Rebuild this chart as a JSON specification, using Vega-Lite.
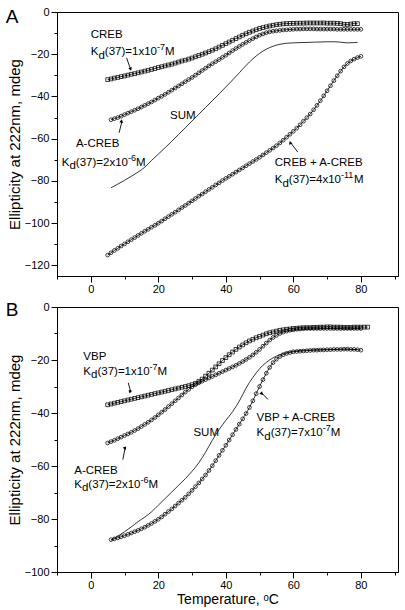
{
"$schema":"https://vega.github.io/schema/vega-lite/v6.json",
"background":"white",
"padding":{"left":5,"top":5,"right":2,"bottom":2},
"spacing":5,
"config":{"view":{"stroke":"black","strokeWidth":1},"axis":{"labelFont":"Liberation Sans","titleFont":"Liberation Sans","labelColor":"black","titleColor":"black","domainColor":"black","tickColor":"black","grid":false,"labelFontSize":11,"titleFontWeight":"normal","titleFontSize":15,"tickWidth":1,"domainWidth":1}},
"datasets":{
"pts":[
{"p":"A","s":"CREB","t":5,"v":-32.0},{"p":"A","s":"CREB","t":6,"v":-31.7},{"p":"A","s":"CREB","t":7,"v":-31.3},{"p":"A","s":"CREB","t":8,"v":-31.0},{"p":"A","s":"CREB","t":9,"v":-30.6},{"p":"A","s":"CREB","t":10,"v":-30.3},{"p":"A","s":"CREB","t":11,"v":-29.9},{"p":"A","s":"CREB","t":12,"v":-29.5},{"p":"A","s":"CREB","t":13,"v":-29.2},{"p":"A","s":"CREB","t":14,"v":-28.8},{"p":"A","s":"CREB","t":15,"v":-28.4},{"p":"A","s":"CREB","t":16,"v":-28.0},{"p":"A","s":"CREB","t":17,"v":-27.6},{"p":"A","s":"CREB","t":18,"v":-27.2},{"p":"A","s":"CREB","t":19,"v":-26.8},{"p":"A","s":"CREB","t":20,"v":-26.3},{"p":"A","s":"CREB","t":21,"v":-25.9},{"p":"A","s":"CREB","t":22,"v":-25.5},{"p":"A","s":"CREB","t":23,"v":-25.1},{"p":"A","s":"CREB","t":24,"v":-24.7},{"p":"A","s":"CREB","t":25,"v":-24.2},{"p":"A","s":"CREB","t":26,"v":-23.7},{"p":"A","s":"CREB","t":27,"v":-23.2},{"p":"A","s":"CREB","t":28,"v":-22.8},{"p":"A","s":"CREB","t":29,"v":-22.3},{"p":"A","s":"CREB","t":30,"v":-21.8},{"p":"A","s":"CREB","t":31,"v":-21.2},{"p":"A","s":"CREB","t":32,"v":-20.6},{"p":"A","s":"CREB","t":33,"v":-20.0},{"p":"A","s":"CREB","t":34,"v":-19.4},{"p":"A","s":"CREB","t":35,"v":-18.8},{"p":"A","s":"CREB","t":36,"v":-18.1},{"p":"A","s":"CREB","t":37,"v":-17.4},{"p":"A","s":"CREB","t":38,"v":-16.6},{"p":"A","s":"CREB","t":39,"v":-15.8},{"p":"A","s":"CREB","t":40,"v":-15.0},{"p":"A","s":"CREB","t":41,"v":-14.2},{"p":"A","s":"CREB","t":42,"v":-13.4},{"p":"A","s":"CREB","t":43,"v":-12.6},{"p":"A","s":"CREB","t":44,"v":-11.8},{"p":"A","s":"CREB","t":45,"v":-11.0},{"p":"A","s":"CREB","t":46,"v":-10.3},{"p":"A","s":"CREB","t":47,"v":-9.6},{"p":"A","s":"CREB","t":48,"v":-9.0},{"p":"A","s":"CREB","t":49,"v":-8.4},{"p":"A","s":"CREB","t":50,"v":-7.8},{"p":"A","s":"CREB","t":51,"v":-7.4},{"p":"A","s":"CREB","t":52,"v":-7.0},{"p":"A","s":"CREB","t":53,"v":-6.6},{"p":"A","s":"CREB","t":54,"v":-6.3},{"p":"A","s":"CREB","t":55,"v":-6.0},{"p":"A","s":"CREB","t":56,"v":-5.8},{"p":"A","s":"CREB","t":57,"v":-5.6},{"p":"A","s":"CREB","t":58,"v":-5.5},{"p":"A","s":"CREB","t":59,"v":-5.4},{"p":"A","s":"CREB","t":60,"v":-5.4},{"p":"A","s":"CREB","t":61,"v":-5.3},{"p":"A","s":"CREB","t":62,"v":-5.3},{"p":"A","s":"CREB","t":63,"v":-5.3},{"p":"A","s":"CREB","t":64,"v":-5.2},{"p":"A","s":"CREB","t":65,"v":-5.2},{"p":"A","s":"CREB","t":66,"v":-5.2},{"p":"A","s":"CREB","t":67,"v":-5.2},{"p":"A","s":"CREB","t":68,"v":-5.2},{"p":"A","s":"CREB","t":69,"v":-5.2},{"p":"A","s":"CREB","t":70,"v":-5.3},{"p":"A","s":"CREB","t":71,"v":-5.3},{"p":"A","s":"CREB","t":72,"v":-5.3},{"p":"A","s":"CREB","t":73,"v":-5.4},{"p":"A","s":"CREB","t":74,"v":-5.5},{"p":"A","s":"CREB","t":75,"v":-5.8},{"p":"A","s":"CREB","t":76,"v":-5.9},{"p":"A","s":"CREB","t":77,"v":-5.7},{"p":"A","s":"CREB","t":78,"v":-5.5},{"p":"A","s":"CREB","t":79,"v":-5.5},
{"p":"A","s":"A-CREB","t":6,"v":-51.0},{"p":"A","s":"A-CREB","t":7,"v":-50.5},{"p":"A","s":"A-CREB","t":8,"v":-50.0},{"p":"A","s":"A-CREB","t":9,"v":-49.3},{"p":"A","s":"A-CREB","t":10,"v":-48.6},{"p":"A","s":"A-CREB","t":11,"v":-47.9},{"p":"A","s":"A-CREB","t":12,"v":-47.2},{"p":"A","s":"A-CREB","t":13,"v":-46.5},{"p":"A","s":"A-CREB","t":14,"v":-45.8},{"p":"A","s":"A-CREB","t":15,"v":-45.0},{"p":"A","s":"A-CREB","t":16,"v":-44.2},{"p":"A","s":"A-CREB","t":17,"v":-43.4},{"p":"A","s":"A-CREB","t":18,"v":-42.6},{"p":"A","s":"A-CREB","t":19,"v":-41.7},{"p":"A","s":"A-CREB","t":20,"v":-40.8},{"p":"A","s":"A-CREB","t":21,"v":-39.9},{"p":"A","s":"A-CREB","t":22,"v":-39.0},{"p":"A","s":"A-CREB","t":23,"v":-38.0},{"p":"A","s":"A-CREB","t":24,"v":-37.0},{"p":"A","s":"A-CREB","t":25,"v":-36.0},{"p":"A","s":"A-CREB","t":26,"v":-35.0},{"p":"A","s":"A-CREB","t":27,"v":-34.0},{"p":"A","s":"A-CREB","t":28,"v":-33.0},{"p":"A","s":"A-CREB","t":29,"v":-32.0},{"p":"A","s":"A-CREB","t":30,"v":-31.0},{"p":"A","s":"A-CREB","t":31,"v":-29.9},{"p":"A","s":"A-CREB","t":32,"v":-28.8},{"p":"A","s":"A-CREB","t":33,"v":-27.7},{"p":"A","s":"A-CREB","t":34,"v":-26.6},{"p":"A","s":"A-CREB","t":35,"v":-25.5},{"p":"A","s":"A-CREB","t":36,"v":-24.5},{"p":"A","s":"A-CREB","t":37,"v":-23.5},{"p":"A","s":"A-CREB","t":38,"v":-22.5},{"p":"A","s":"A-CREB","t":39,"v":-21.5},{"p":"A","s":"A-CREB","t":40,"v":-20.5},{"p":"A","s":"A-CREB","t":41,"v":-19.4},{"p":"A","s":"A-CREB","t":42,"v":-18.3},{"p":"A","s":"A-CREB","t":43,"v":-17.3},{"p":"A","s":"A-CREB","t":44,"v":-16.3},{"p":"A","s":"A-CREB","t":45,"v":-15.3},{"p":"A","s":"A-CREB","t":46,"v":-14.4},{"p":"A","s":"A-CREB","t":47,"v":-13.5},{"p":"A","s":"A-CREB","t":48,"v":-12.6},{"p":"A","s":"A-CREB","t":49,"v":-11.8},{"p":"A","s":"A-CREB","t":50,"v":-11.0},{"p":"A","s":"A-CREB","t":51,"v":-10.4},{"p":"A","s":"A-CREB","t":52,"v":-9.8},{"p":"A","s":"A-CREB","t":53,"v":-9.4},{"p":"A","s":"A-CREB","t":54,"v":-9.1},{"p":"A","s":"A-CREB","t":55,"v":-8.9},{"p":"A","s":"A-CREB","t":56,"v":-8.7},{"p":"A","s":"A-CREB","t":57,"v":-8.5},{"p":"A","s":"A-CREB","t":58,"v":-8.4},{"p":"A","s":"A-CREB","t":59,"v":-8.3},{"p":"A","s":"A-CREB","t":60,"v":-8.2},{"p":"A","s":"A-CREB","t":61,"v":-8.1},{"p":"A","s":"A-CREB","t":62,"v":-8.1},{"p":"A","s":"A-CREB","t":63,"v":-8.0},{"p":"A","s":"A-CREB","t":64,"v":-8.0},{"p":"A","s":"A-CREB","t":65,"v":-8.0},{"p":"A","s":"A-CREB","t":66,"v":-8.0},{"p":"A","s":"A-CREB","t":67,"v":-8.1},{"p":"A","s":"A-CREB","t":68,"v":-8.1},{"p":"A","s":"A-CREB","t":69,"v":-8.1},{"p":"A","s":"A-CREB","t":70,"v":-8.1},{"p":"A","s":"A-CREB","t":71,"v":-8.1},{"p":"A","s":"A-CREB","t":72,"v":-8.1},{"p":"A","s":"A-CREB","t":73,"v":-8.2},{"p":"A","s":"A-CREB","t":74,"v":-8.2},{"p":"A","s":"A-CREB","t":75,"v":-8.2},{"p":"A","s":"A-CREB","t":76,"v":-8.2},{"p":"A","s":"A-CREB","t":77,"v":-8.2},{"p":"A","s":"A-CREB","t":78,"v":-8.2},{"p":"A","s":"A-CREB","t":79,"v":-8.2},{"p":"A","s":"A-CREB","t":80,"v":-8.2},
{"p":"A","s":"SUM","t":6,"v":-83.2},{"p":"A","s":"SUM","t":8,"v":-81.5},{"p":"A","s":"SUM","t":10,"v":-79.7},{"p":"A","s":"SUM","t":12,"v":-77.8},{"p":"A","s":"SUM","t":14,"v":-75.8},{"p":"A","s":"SUM","t":16,"v":-73.5},{"p":"A","s":"SUM","t":18,"v":-70.3},{"p":"A","s":"SUM","t":20,"v":-67.3},{"p":"A","s":"SUM","t":22,"v":-64.3},{"p":"A","s":"SUM","t":24,"v":-61.2},{"p":"A","s":"SUM","t":26,"v":-58.0},{"p":"A","s":"SUM","t":28,"v":-54.8},{"p":"A","s":"SUM","t":30,"v":-51.6},{"p":"A","s":"SUM","t":32,"v":-48.4},{"p":"A","s":"SUM","t":34,"v":-45.2},{"p":"A","s":"SUM","t":36,"v":-42.0},{"p":"A","s":"SUM","t":38,"v":-38.8},{"p":"A","s":"SUM","t":40,"v":-35.5},{"p":"A","s":"SUM","t":42,"v":-32.2},{"p":"A","s":"SUM","t":44,"v":-28.8},{"p":"A","s":"SUM","t":46,"v":-25.3},{"p":"A","s":"SUM","t":48,"v":-22.2},{"p":"A","s":"SUM","t":50,"v":-19.6},{"p":"A","s":"SUM","t":52,"v":-17.6},{"p":"A","s":"SUM","t":54,"v":-16.2},{"p":"A","s":"SUM","t":56,"v":-15.3},{"p":"A","s":"SUM","t":58,"v":-14.8},{"p":"A","s":"SUM","t":60,"v":-14.6},{"p":"A","s":"SUM","t":62,"v":-14.5},{"p":"A","s":"SUM","t":64,"v":-14.4},{"p":"A","s":"SUM","t":66,"v":-14.3},{"p":"A","s":"SUM","t":68,"v":-14.2},{"p":"A","s":"SUM","t":70,"v":-14.1},{"p":"A","s":"SUM","t":72,"v":-14.1},{"p":"A","s":"SUM","t":74,"v":-14.3},{"p":"A","s":"SUM","t":76,"v":-14.6},{"p":"A","s":"SUM","t":78,"v":-14.5},{"p":"A","s":"SUM","t":79,"v":-14.4},
{"p":"A","s":"CREB + A-CREB","t":5,"v":-115.1},{"p":"A","s":"CREB + A-CREB","t":6,"v":-114.0},{"p":"A","s":"CREB + A-CREB","t":7,"v":-112.9},{"p":"A","s":"CREB + A-CREB","t":8,"v":-111.9},{"p":"A","s":"CREB + A-CREB","t":9,"v":-110.8},{"p":"A","s":"CREB + A-CREB","t":10,"v":-109.8},{"p":"A","s":"CREB + A-CREB","t":11,"v":-108.8},{"p":"A","s":"CREB + A-CREB","t":12,"v":-107.8},{"p":"A","s":"CREB + A-CREB","t":13,"v":-106.8},{"p":"A","s":"CREB + A-CREB","t":14,"v":-105.8},{"p":"A","s":"CREB + A-CREB","t":15,"v":-104.8},{"p":"A","s":"CREB + A-CREB","t":16,"v":-103.8},{"p":"A","s":"CREB + A-CREB","t":17,"v":-102.9},{"p":"A","s":"CREB + A-CREB","t":18,"v":-101.9},{"p":"A","s":"CREB + A-CREB","t":19,"v":-101.0},{"p":"A","s":"CREB + A-CREB","t":20,"v":-100.0},{"p":"A","s":"CREB + A-CREB","t":21,"v":-99.0},{"p":"A","s":"CREB + A-CREB","t":22,"v":-97.9},{"p":"A","s":"CREB + A-CREB","t":23,"v":-96.9},{"p":"A","s":"CREB + A-CREB","t":24,"v":-95.8},{"p":"A","s":"CREB + A-CREB","t":25,"v":-94.8},{"p":"A","s":"CREB + A-CREB","t":26,"v":-93.7},{"p":"A","s":"CREB + A-CREB","t":27,"v":-92.6},{"p":"A","s":"CREB + A-CREB","t":28,"v":-91.6},{"p":"A","s":"CREB + A-CREB","t":29,"v":-90.5},{"p":"A","s":"CREB + A-CREB","t":30,"v":-89.4},{"p":"A","s":"CREB + A-CREB","t":31,"v":-88.3},{"p":"A","s":"CREB + A-CREB","t":32,"v":-87.2},{"p":"A","s":"CREB + A-CREB","t":33,"v":-86.2},{"p":"A","s":"CREB + A-CREB","t":34,"v":-85.1},{"p":"A","s":"CREB + A-CREB","t":35,"v":-84.0},{"p":"A","s":"CREB + A-CREB","t":36,"v":-83.0},{"p":"A","s":"CREB + A-CREB","t":37,"v":-81.9},{"p":"A","s":"CREB + A-CREB","t":38,"v":-80.9},{"p":"A","s":"CREB + A-CREB","t":39,"v":-79.8},{"p":"A","s":"CREB + A-CREB","t":40,"v":-78.8},{"p":"A","s":"CREB + A-CREB","t":41,"v":-77.8},{"p":"A","s":"CREB + A-CREB","t":42,"v":-76.8},{"p":"A","s":"CREB + A-CREB","t":43,"v":-75.8},{"p":"A","s":"CREB + A-CREB","t":44,"v":-74.8},{"p":"A","s":"CREB + A-CREB","t":45,"v":-73.8},{"p":"A","s":"CREB + A-CREB","t":46,"v":-72.8},{"p":"A","s":"CREB + A-CREB","t":47,"v":-71.8},{"p":"A","s":"CREB + A-CREB","t":48,"v":-70.8},{"p":"A","s":"CREB + A-CREB","t":49,"v":-69.8},{"p":"A","s":"CREB + A-CREB","t":50,"v":-68.8},{"p":"A","s":"CREB + A-CREB","t":51,"v":-67.7},{"p":"A","s":"CREB + A-CREB","t":52,"v":-66.6},{"p":"A","s":"CREB + A-CREB","t":53,"v":-65.5},{"p":"A","s":"CREB + A-CREB","t":54,"v":-64.4},{"p":"A","s":"CREB + A-CREB","t":55,"v":-63.3},{"p":"A","s":"CREB + A-CREB","t":56,"v":-62.0},{"p":"A","s":"CREB + A-CREB","t":57,"v":-60.7},{"p":"A","s":"CREB + A-CREB","t":58,"v":-59.3},{"p":"A","s":"CREB + A-CREB","t":59,"v":-57.9},{"p":"A","s":"CREB + A-CREB","t":60,"v":-56.5},{"p":"A","s":"CREB + A-CREB","t":61,"v":-55.0},{"p":"A","s":"CREB + A-CREB","t":62,"v":-53.4},{"p":"A","s":"CREB + A-CREB","t":63,"v":-51.7},{"p":"A","s":"CREB + A-CREB","t":64,"v":-50.0},{"p":"A","s":"CREB + A-CREB","t":65,"v":-48.3},{"p":"A","s":"CREB + A-CREB","t":66,"v":-46.3},{"p":"A","s":"CREB + A-CREB","t":67,"v":-44.2},{"p":"A","s":"CREB + A-CREB","t":68,"v":-42.0},{"p":"A","s":"CREB + A-CREB","t":69,"v":-39.7},{"p":"A","s":"CREB + A-CREB","t":70,"v":-37.3},{"p":"A","s":"CREB + A-CREB","t":71,"v":-34.9},{"p":"A","s":"CREB + A-CREB","t":72,"v":-32.5},{"p":"A","s":"CREB + A-CREB","t":73,"v":-30.2},{"p":"A","s":"CREB + A-CREB","t":74,"v":-28.0},{"p":"A","s":"CREB + A-CREB","t":75,"v":-26.0},{"p":"A","s":"CREB + A-CREB","t":76,"v":-24.4},{"p":"A","s":"CREB + A-CREB","t":77,"v":-23.2},{"p":"A","s":"CREB + A-CREB","t":78,"v":-22.3},{"p":"A","s":"CREB + A-CREB","t":79,"v":-21.6},{"p":"A","s":"CREB + A-CREB","t":80,"v":-21.0},
{"p":"B","s":"VBP","t":5,"v":-36.9},{"p":"B","s":"VBP","t":6,"v":-36.6},{"p":"B","s":"VBP","t":7,"v":-36.3},{"p":"B","s":"VBP","t":8,"v":-36.0},{"p":"B","s":"VBP","t":9,"v":-35.7},{"p":"B","s":"VBP","t":10,"v":-35.4},{"p":"B","s":"VBP","t":11,"v":-35.1},{"p":"B","s":"VBP","t":12,"v":-34.8},{"p":"B","s":"VBP","t":13,"v":-34.5},{"p":"B","s":"VBP","t":14,"v":-34.2},{"p":"B","s":"VBP","t":15,"v":-33.9},{"p":"B","s":"VBP","t":16,"v":-33.6},{"p":"B","s":"VBP","t":17,"v":-33.3},{"p":"B","s":"VBP","t":18,"v":-33.0},{"p":"B","s":"VBP","t":19,"v":-32.7},{"p":"B","s":"VBP","t":20,"v":-32.4},{"p":"B","s":"VBP","t":21,"v":-32.1},{"p":"B","s":"VBP","t":22,"v":-31.8},{"p":"B","s":"VBP","t":23,"v":-31.5},{"p":"B","s":"VBP","t":24,"v":-31.2},{"p":"B","s":"VBP","t":25,"v":-30.9},{"p":"B","s":"VBP","t":26,"v":-30.6},{"p":"B","s":"VBP","t":27,"v":-30.3},{"p":"B","s":"VBP","t":28,"v":-30.0},{"p":"B","s":"VBP","t":29,"v":-29.7},{"p":"B","s":"VBP","t":30,"v":-29.3},{"p":"B","s":"VBP","t":31,"v":-28.8},{"p":"B","s":"VBP","t":32,"v":-28.1},{"p":"B","s":"VBP","t":33,"v":-27.2},{"p":"B","s":"VBP","t":34,"v":-26.1},{"p":"B","s":"VBP","t":35,"v":-25.0},{"p":"B","s":"VBP","t":36,"v":-23.8},{"p":"B","s":"VBP","t":37,"v":-22.6},{"p":"B","s":"VBP","t":38,"v":-21.4},{"p":"B","s":"VBP","t":39,"v":-20.2},{"p":"B","s":"VBP","t":40,"v":-19.1},{"p":"B","s":"VBP","t":41,"v":-18.0},{"p":"B","s":"VBP","t":42,"v":-17.0},{"p":"B","s":"VBP","t":43,"v":-16.0},{"p":"B","s":"VBP","t":44,"v":-15.1},{"p":"B","s":"VBP","t":45,"v":-14.3},{"p":"B","s":"VBP","t":46,"v":-13.5},{"p":"B","s":"VBP","t":47,"v":-12.8},{"p":"B","s":"VBP","t":48,"v":-12.2},{"p":"B","s":"VBP","t":49,"v":-11.6},{"p":"B","s":"VBP","t":50,"v":-11.1},{"p":"B","s":"VBP","t":51,"v":-10.6},{"p":"B","s":"VBP","t":52,"v":-10.1},{"p":"B","s":"VBP","t":53,"v":-9.7},{"p":"B","s":"VBP","t":54,"v":-9.4},{"p":"B","s":"VBP","t":55,"v":-9.1},{"p":"B","s":"VBP","t":56,"v":-8.8},{"p":"B","s":"VBP","t":57,"v":-8.6},{"p":"B","s":"VBP","t":58,"v":-8.4},{"p":"B","s":"VBP","t":59,"v":-8.3},{"p":"B","s":"VBP","t":60,"v":-8.1},{"p":"B","s":"VBP","t":61,"v":-8.0},{"p":"B","s":"VBP","t":62,"v":-7.9},{"p":"B","s":"VBP","t":63,"v":-7.8},{"p":"B","s":"VBP","t":64,"v":-7.8},{"p":"B","s":"VBP","t":65,"v":-7.8},{"p":"B","s":"VBP","t":66,"v":-7.7},{"p":"B","s":"VBP","t":67,"v":-7.7},{"p":"B","s":"VBP","t":68,"v":-7.6},{"p":"B","s":"VBP","t":69,"v":-7.6},{"p":"B","s":"VBP","t":70,"v":-7.5},{"p":"B","s":"VBP","t":71,"v":-7.5},{"p":"B","s":"VBP","t":72,"v":-7.6},{"p":"B","s":"VBP","t":73,"v":-7.6},{"p":"B","s":"VBP","t":74,"v":-7.6},{"p":"B","s":"VBP","t":75,"v":-7.7},{"p":"B","s":"VBP","t":76,"v":-7.7},{"p":"B","s":"VBP","t":77,"v":-7.7},{"p":"B","s":"VBP","t":78,"v":-7.6},{"p":"B","s":"VBP","t":79,"v":-7.6},{"p":"B","s":"VBP","t":80,"v":-7.6},{"p":"B","s":"VBP","t":81,"v":-7.6},{"p":"B","s":"VBP","t":82,"v":-7.6},
{"p":"B","s":"A-CREB","t":5,"v":-51.3},{"p":"B","s":"A-CREB","t":6,"v":-50.8},{"p":"B","s":"A-CREB","t":7,"v":-50.3},{"p":"B","s":"A-CREB","t":8,"v":-49.7},{"p":"B","s":"A-CREB","t":9,"v":-49.1},{"p":"B","s":"A-CREB","t":10,"v":-48.5},{"p":"B","s":"A-CREB","t":11,"v":-47.9},{"p":"B","s":"A-CREB","t":12,"v":-47.3},{"p":"B","s":"A-CREB","t":13,"v":-46.6},{"p":"B","s":"A-CREB","t":14,"v":-45.9},{"p":"B","s":"A-CREB","t":15,"v":-45.1},{"p":"B","s":"A-CREB","t":16,"v":-44.3},{"p":"B","s":"A-CREB","t":17,"v":-43.5},{"p":"B","s":"A-CREB","t":18,"v":-42.6},{"p":"B","s":"A-CREB","t":19,"v":-41.7},{"p":"B","s":"A-CREB","t":20,"v":-40.7},{"p":"B","s":"A-CREB","t":21,"v":-39.7},{"p":"B","s":"A-CREB","t":22,"v":-38.7},{"p":"B","s":"A-CREB","t":23,"v":-37.6},{"p":"B","s":"A-CREB","t":24,"v":-36.5},{"p":"B","s":"A-CREB","t":25,"v":-35.4},{"p":"B","s":"A-CREB","t":26,"v":-34.3},{"p":"B","s":"A-CREB","t":27,"v":-33.2},{"p":"B","s":"A-CREB","t":28,"v":-32.1},{"p":"B","s":"A-CREB","t":29,"v":-31.1},{"p":"B","s":"A-CREB","t":30,"v":-30.1},{"p":"B","s":"A-CREB","t":31,"v":-29.3},{"p":"B","s":"A-CREB","t":32,"v":-28.6},{"p":"B","s":"A-CREB","t":33,"v":-28.0},{"p":"B","s":"A-CREB","t":34,"v":-27.4},{"p":"B","s":"A-CREB","t":35,"v":-26.8},{"p":"B","s":"A-CREB","t":36,"v":-26.2},{"p":"B","s":"A-CREB","t":37,"v":-25.6},{"p":"B","s":"A-CREB","t":38,"v":-25.0},{"p":"B","s":"A-CREB","t":39,"v":-24.4},{"p":"B","s":"A-CREB","t":40,"v":-23.8},{"p":"B","s":"A-CREB","t":41,"v":-23.2},{"p":"B","s":"A-CREB","t":42,"v":-22.6},{"p":"B","s":"A-CREB","t":43,"v":-22.0},{"p":"B","s":"A-CREB","t":44,"v":-21.3},{"p":"B","s":"A-CREB","t":45,"v":-20.6},{"p":"B","s":"A-CREB","t":46,"v":-19.8},{"p":"B","s":"A-CREB","t":47,"v":-19.0},{"p":"B","s":"A-CREB","t":48,"v":-18.1},{"p":"B","s":"A-CREB","t":49,"v":-17.1},{"p":"B","s":"A-CREB","t":50,"v":-16.0},{"p":"B","s":"A-CREB","t":51,"v":-14.8},{"p":"B","s":"A-CREB","t":52,"v":-13.6},{"p":"B","s":"A-CREB","t":53,"v":-12.5},{"p":"B","s":"A-CREB","t":54,"v":-11.5},{"p":"B","s":"A-CREB","t":55,"v":-10.7},{"p":"B","s":"A-CREB","t":56,"v":-10.0},{"p":"B","s":"A-CREB","t":57,"v":-9.5},{"p":"B","s":"A-CREB","t":58,"v":-9.1},{"p":"B","s":"A-CREB","t":59,"v":-8.8},{"p":"B","s":"A-CREB","t":60,"v":-8.6},{"p":"B","s":"A-CREB","t":61,"v":-8.4},{"p":"B","s":"A-CREB","t":62,"v":-8.3},{"p":"B","s":"A-CREB","t":63,"v":-8.2},{"p":"B","s":"A-CREB","t":64,"v":-8.1},{"p":"B","s":"A-CREB","t":65,"v":-8.1},{"p":"B","s":"A-CREB","t":66,"v":-8.1},{"p":"B","s":"A-CREB","t":67,"v":-8.1},{"p":"B","s":"A-CREB","t":68,"v":-8.1},{"p":"B","s":"A-CREB","t":69,"v":-8.1},{"p":"B","s":"A-CREB","t":70,"v":-8.1},{"p":"B","s":"A-CREB","t":71,"v":-8.1},{"p":"B","s":"A-CREB","t":72,"v":-8.1},{"p":"B","s":"A-CREB","t":73,"v":-8.1},{"p":"B","s":"A-CREB","t":74,"v":-8.1},{"p":"B","s":"A-CREB","t":75,"v":-8.1},{"p":"B","s":"A-CREB","t":76,"v":-8.1},{"p":"B","s":"A-CREB","t":77,"v":-8.1},{"p":"B","s":"A-CREB","t":78,"v":-8.1},{"p":"B","s":"A-CREB","t":79,"v":-8.1},{"p":"B","s":"A-CREB","t":80,"v":-8.1},
{"p":"B","s":"SUM","t":6,"v":-88.0},{"p":"B","s":"SUM","t":8,"v":-86.5},{"p":"B","s":"SUM","t":10,"v":-84.8},{"p":"B","s":"SUM","t":12,"v":-83.0},{"p":"B","s":"SUM","t":14,"v":-81.0},{"p":"B","s":"SUM","t":16,"v":-79.3},{"p":"B","s":"SUM","t":18,"v":-77.3},{"p":"B","s":"SUM","t":20,"v":-74.8},{"p":"B","s":"SUM","t":22,"v":-72.3},{"p":"B","s":"SUM","t":24,"v":-69.8},{"p":"B","s":"SUM","t":26,"v":-67.3},{"p":"B","s":"SUM","t":28,"v":-64.8},{"p":"B","s":"SUM","t":30,"v":-62.0},{"p":"B","s":"SUM","t":32,"v":-58.8},{"p":"B","s":"SUM","t":34,"v":-54.8},{"p":"B","s":"SUM","t":36,"v":-50.3},{"p":"B","s":"SUM","t":38,"v":-46.3},{"p":"B","s":"SUM","t":40,"v":-42.8},{"p":"B","s":"SUM","t":42,"v":-39.5},{"p":"B","s":"SUM","t":44,"v":-35.5},{"p":"B","s":"SUM","t":46,"v":-30.6},{"p":"B","s":"SUM","t":48,"v":-26.6},{"p":"B","s":"SUM","t":50,"v":-23.3},{"p":"B","s":"SUM","t":52,"v":-20.9},{"p":"B","s":"SUM","t":54,"v":-19.2},{"p":"B","s":"SUM","t":56,"v":-18.0},{"p":"B","s":"SUM","t":58,"v":-17.2},{"p":"B","s":"SUM","t":60,"v":-16.7},{"p":"B","s":"SUM","t":62,"v":-16.4},{"p":"B","s":"SUM","t":64,"v":-16.3},{"p":"B","s":"SUM","t":66,"v":-16.2},{"p":"B","s":"SUM","t":70,"v":-16.1},{"p":"B","s":"SUM","t":75,"v":-15.9},{"p":"B","s":"SUM","t":79,"v":-16.1},
{"p":"B","s":"VBP + A-CREB","t":6,"v":-87.8},{"p":"B","s":"VBP + A-CREB","t":7,"v":-87.5},{"p":"B","s":"VBP + A-CREB","t":8,"v":-87.1},{"p":"B","s":"VBP + A-CREB","t":9,"v":-86.7},{"p":"B","s":"VBP + A-CREB","t":10,"v":-86.3},{"p":"B","s":"VBP + A-CREB","t":11,"v":-85.8},{"p":"B","s":"VBP + A-CREB","t":12,"v":-85.3},{"p":"B","s":"VBP + A-CREB","t":13,"v":-84.8},{"p":"B","s":"VBP + A-CREB","t":14,"v":-84.3},{"p":"B","s":"VBP + A-CREB","t":15,"v":-83.7},{"p":"B","s":"VBP + A-CREB","t":16,"v":-83.1},{"p":"B","s":"VBP + A-CREB","t":17,"v":-82.4},{"p":"B","s":"VBP + A-CREB","t":18,"v":-81.7},{"p":"B","s":"VBP + A-CREB","t":19,"v":-80.9},{"p":"B","s":"VBP + A-CREB","t":20,"v":-80.1},{"p":"B","s":"VBP + A-CREB","t":21,"v":-79.2},{"p":"B","s":"VBP + A-CREB","t":22,"v":-78.2},{"p":"B","s":"VBP + A-CREB","t":23,"v":-77.2},{"p":"B","s":"VBP + A-CREB","t":24,"v":-76.2},{"p":"B","s":"VBP + A-CREB","t":25,"v":-75.1},{"p":"B","s":"VBP + A-CREB","t":26,"v":-74.0},{"p":"B","s":"VBP + A-CREB","t":27,"v":-72.9},{"p":"B","s":"VBP + A-CREB","t":28,"v":-71.8},{"p":"B","s":"VBP + A-CREB","t":29,"v":-70.5},{"p":"B","s":"VBP + A-CREB","t":30,"v":-69.2},{"p":"B","s":"VBP + A-CREB","t":31,"v":-67.8},{"p":"B","s":"VBP + A-CREB","t":32,"v":-66.4},{"p":"B","s":"VBP + A-CREB","t":33,"v":-64.9},{"p":"B","s":"VBP + A-CREB","t":34,"v":-63.4},{"p":"B","s":"VBP + A-CREB","t":35,"v":-61.7},{"p":"B","s":"VBP + A-CREB","t":36,"v":-59.9},{"p":"B","s":"VBP + A-CREB","t":37,"v":-58.0},{"p":"B","s":"VBP + A-CREB","t":38,"v":-56.0},{"p":"B","s":"VBP + A-CREB","t":39,"v":-54.1},{"p":"B","s":"VBP + A-CREB","t":40,"v":-52.2},{"p":"B","s":"VBP + A-CREB","t":41,"v":-50.2},{"p":"B","s":"VBP + A-CREB","t":42,"v":-48.2},{"p":"B","s":"VBP + A-CREB","t":43,"v":-46.2},{"p":"B","s":"VBP + A-CREB","t":44,"v":-44.2},{"p":"B","s":"VBP + A-CREB","t":45,"v":-42.2},{"p":"B","s":"VBP + A-CREB","t":46,"v":-40.2},{"p":"B","s":"VBP + A-CREB","t":47,"v":-37.9},{"p":"B","s":"VBP + A-CREB","t":48,"v":-35.4},{"p":"B","s":"VBP + A-CREB","t":49,"v":-32.7},{"p":"B","s":"VBP + A-CREB","t":50,"v":-30.0},{"p":"B","s":"VBP + A-CREB","t":51,"v":-27.4},{"p":"B","s":"VBP + A-CREB","t":52,"v":-25.0},{"p":"B","s":"VBP + A-CREB","t":53,"v":-22.8},{"p":"B","s":"VBP + A-CREB","t":54,"v":-21.0},{"p":"B","s":"VBP + A-CREB","t":55,"v":-19.7},{"p":"B","s":"VBP + A-CREB","t":56,"v":-18.7},{"p":"B","s":"VBP + A-CREB","t":57,"v":-18.0},{"p":"B","s":"VBP + A-CREB","t":58,"v":-17.5},{"p":"B","s":"VBP + A-CREB","t":59,"v":-17.2},{"p":"B","s":"VBP + A-CREB","t":60,"v":-16.9},{"p":"B","s":"VBP + A-CREB","t":61,"v":-16.8},{"p":"B","s":"VBP + A-CREB","t":62,"v":-16.7},{"p":"B","s":"VBP + A-CREB","t":63,"v":-16.6},{"p":"B","s":"VBP + A-CREB","t":64,"v":-16.5},{"p":"B","s":"VBP + A-CREB","t":65,"v":-16.4},{"p":"B","s":"VBP + A-CREB","t":66,"v":-16.3},{"p":"B","s":"VBP + A-CREB","t":67,"v":-16.3},{"p":"B","s":"VBP + A-CREB","t":68,"v":-16.2},{"p":"B","s":"VBP + A-CREB","t":69,"v":-16.2},{"p":"B","s":"VBP + A-CREB","t":70,"v":-16.1},{"p":"B","s":"VBP + A-CREB","t":71,"v":-16.1},{"p":"B","s":"VBP + A-CREB","t":72,"v":-16.0},{"p":"B","s":"VBP + A-CREB","t":73,"v":-16.0},{"p":"B","s":"VBP + A-CREB","t":74,"v":-16.0},{"p":"B","s":"VBP + A-CREB","t":75,"v":-15.9},{"p":"B","s":"VBP + A-CREB","t":76,"v":-15.9},{"p":"B","s":"VBP + A-CREB","t":77,"v":-16.0},{"p":"B","s":"VBP + A-CREB","t":78,"v":-16.0},{"p":"B","s":"VBP + A-CREB","t":79,"v":-16.1},{"p":"B","s":"VBP + A-CREB","t":80,"v":-16.3}
],
"txt":[
{"p":"A","t":0,"v":-12.5,"txt":"CREB"},{"p":"A","t":23.5,"v":-50.8,"txt":"SUM"},{"p":"A","t":-4.4,"v":-63.8,"txt":"A-CREB"},{"p":"A","t":54.5,"v":-73,"txt":"CREB + A-CREB"},
{"p":"B","t":-2.2,"v":-20.1,"txt":"VBP"},{"p":"B","t":30.4,"v":-48.5,"txt":"SUM"},{"p":"B","t":-4.9,"v":-63.2,"txt":"A-CREB"},{"p":"B","t":49.1,"v":-43.1,"txt":"VBP + A-CREB"}
],
"panel":[
{"p":"A","t":-25.2,"v":-5.1,"txt":"A"},{"p":"B","t":-25.2,"v":-3.5,"txt":"B"}
],
"kd":[
{"p":"A","t":0,"v":-20.4,"pre":"(37)=1x10","exp":"-7"},{"p":"A","t":-8.6,"v":-72.8,"pre":"(37)=2x10","exp":"-6"},{"p":"A","t":54.5,"v":-81,"pre":"(37)=4x10","exp":"-11"},
{"p":"B","t":-2.2,"v":-25.5,"pre":"(37)=1x10","exp":"-7"},{"p":"B","t":-4.9,"v":-68.2,"pre":"(37)=2x10","exp":"-6"},{"p":"B","t":49.1,"v":-48.8,"pre":"(37)=7x10","exp":"-7"}
],
"arr":[
{"p":"A","id":"a1","t":11.8,"v":-27.1,"t2":10.6,"v2":-21.7},{"p":"A","id":"a2","t":9.2,"v":-52.0,"t2":8.4,"v2":-57.2},{"p":"A","id":"a3","t":59.3,"v":-62.1,"t2":61.3,"v2":-66.3},
{"p":"B","id":"b1","t":11.8,"v":-31.8,"t2":11.1,"v2":-28.6},{"p":"B","id":"b2","t":10.2,"v":-53.1,"t2":9.5,"v2":-57.6},{"p":"B","id":"b3","t":50.6,"v":-32.4,"t2":52.5,"v2":-34.9}
]
},
"vconcat":[
{
"width":341,"height":264,
"encoding":{
"x":{"field":"t","type":"quantitative","scale":{"domain":[-10,91],"nice":false,"zero":false},"axis":{"title":null,"values":[-10,0,10,20,30,40,50,60,70,80,90],"labelExpr":"datum.value % 20 === 0 ? datum.label : ''","tickSize":{"condition":{"test":"datum.value % 20 === 0","value":6},"value":3},"labelPadding":1,"labelFlush":false}},
"y":{"field":"v","type":"quantitative","scale":{"domain":[-125,0],"nice":false,"zero":false},"axis":{"title":"Ellipticity at 222nm, mdeg","values":[-120,-110,-100,-90,-80,-70,-60,-50,-40,-30,-20,-10,0],"labelExpr":"datum.value % 20 === 0 ? datum.label : ''","tickSize":{"condition":{"test":"datum.value % 20 === 0","value":6},"value":3},"labelPadding":2,"titlePadding":2}}
},
"layer":[
{"data":{"name":"pts"},"transform":[{"filter":"datum.p==='A'"}],"mark":{"type":"line","color":"black","strokeWidth":0.8,"interpolate":"monotone"},"encoding":{"detail":{"field":"s"}}},
{"data":{"name":"pts"},"transform":[{"filter":"datum.p==='A' && datum.s!=='SUM'"}],"mark":{"type":"point","filled":false,"color":"black","strokeWidth":0.75,"size":14,"opacity":1},"encoding":{"shape":{"field":"s","type":"nominal","scale":{"domain":["CREB","VBP","A-CREB","CREB + A-CREB","VBP + A-CREB"],"range":["square","square","circle","circle","circle"]},"legend":null}}},
{"data":{"name":"arr"},"transform":[{"filter":"datum.p==='A'"}],"mark":{"type":"rule","color":"black","strokeWidth":0.9},"encoding":{"x2":{"field":"t2"},"y2":{"field":"v2"}}},
{"data":{"name":"arr"},"transform":[{"filter":"datum.p==='A'"}],"mark":{"type":"point","shape":"triangle-up","filled":true,"color":"black","size":14,"opacity":1},"encoding":{"angle":{"field":"id","type":"nominal","scale":{"domain":["a1","a2","a3","b1","b2","b3"],"range":[161,14,322,164,11,317]},"legend":null}}},
{"data":{"name":"txt"},"transform":[{"filter":"datum.p==='A'"}],"mark":{"type":"text","align":"left","baseline":"alphabetic","font":"Liberation Sans","fontSize":11.5,"color":"black"},"encoding":{"text":{"field":"txt"}}},
{"data":{"name":"panel"},"transform":[{"filter":"datum.p==='A'"}],"mark":{"type":"text","align":"left","baseline":"alphabetic","font":"Liberation Sans","fontSize":19,"color":"black"},"encoding":{"text":{"field":"txt"}}},
{"data":{"name":"kd"},"transform":[{"filter":"datum.p==='A'"}],"mark":{"type":"text","align":"left","baseline":"alphabetic","font":"Liberation Sans","fontSize":11.5,"color":"black"},"encoding":{"text":{"value":"K"}}},
{"data":{"name":"kd"},"transform":[{"filter":"datum.p==='A'"}],"mark":{"type":"text","align":"left","baseline":"alphabetic","font":"Liberation Sans","fontSize":11.5,"color":"black","dx":7.7,"dy":3.5},"encoding":{"text":{"value":"d"}}},
{"data":{"name":"kd"},"transform":[{"filter":"datum.p==='A'"}],"mark":{"type":"text","align":"left","baseline":"alphabetic","font":"Liberation Sans","fontSize":11.5,"color":"black","dx":14.1},"encoding":{"text":{"field":"pre"}}},
{"data":{"name":"kd"},"transform":[{"filter":"datum.p==='A'"}],"mark":{"type":"text","align":"left","baseline":"alphabetic","font":"Liberation Sans","fontSize":9,"color":"black","dx":66.2,"dy":-5},"encoding":{"text":{"field":"exp"}}},
{"data":{"name":"kd"},"transform":[{"filter":"datum.p==='A' && length(datum.exp) < 3"}],"mark":{"type":"text","align":"left","baseline":"alphabetic","font":"Liberation Sans","fontSize":11.5,"color":"black","dx":74.2},"encoding":{"text":{"value":"M"}}},
{"data":{"name":"kd"},"transform":[{"filter":"datum.p==='A' && length(datum.exp) >= 3"}],"mark":{"type":"text","align":"left","baseline":"alphabetic","font":"Liberation Sans","fontSize":11.5,"color":"black","dx":79.2},"encoding":{"text":{"value":"M"}}}
]
},
{
"width":341,"height":265,
"encoding":{
"x":{"field":"t","type":"quantitative","scale":{"domain":[-10,91],"nice":false,"zero":false},"axis":{"title":"Temperature, ᵒC","titleFontSize":14,"titlePadding":2,"values":[-10,0,10,20,30,40,50,60,70,80,90],"labelExpr":"datum.value % 20 === 0 ? datum.label : ''","tickSize":{"condition":{"test":"datum.value % 20 === 0","value":6},"value":3},"labelPadding":1,"labelFlush":false}},
"y":{"field":"v","type":"quantitative","scale":{"domain":[-100,0],"nice":false,"zero":false},"axis":{"title":"Ellipticity at 222nm, mdeg","values":[-100,-90,-80,-70,-60,-50,-40,-30,-20,-10,0],"labelExpr":"datum.value % 20 === 0 ? datum.label : ''","tickSize":{"condition":{"test":"datum.value % 20 === 0","value":6},"value":3},"labelPadding":2,"titlePadding":2}}
},
"layer":[
{"data":{"name":"pts"},"transform":[{"filter":"datum.p==='B'"}],"mark":{"type":"line","color":"black","strokeWidth":0.8,"interpolate":"monotone"},"encoding":{"detail":{"field":"s"}}},
{"data":{"name":"pts"},"transform":[{"filter":"datum.p==='B' && datum.s!=='SUM'"}],"mark":{"type":"point","filled":false,"color":"black","strokeWidth":0.75,"size":14,"opacity":1},"encoding":{"shape":{"field":"s","type":"nominal","scale":{"domain":["CREB","VBP","A-CREB","CREB + A-CREB","VBP + A-CREB"],"range":["square","square","circle","circle","circle"]},"legend":null}}},
{"data":{"name":"arr"},"transform":[{"filter":"datum.p==='B'"}],"mark":{"type":"rule","color":"black","strokeWidth":0.9},"encoding":{"x2":{"field":"t2"},"y2":{"field":"v2"}}},
{"data":{"name":"arr"},"transform":[{"filter":"datum.p==='B'"}],"mark":{"type":"point","shape":"triangle-up","filled":true,"color":"black","size":14,"opacity":1},"encoding":{"angle":{"field":"id","type":"nominal","scale":{"domain":["a1","a2","a3","b1","b2","b3"],"range":[161,14,322,164,11,317]},"legend":null}}},
{"data":{"name":"txt"},"transform":[{"filter":"datum.p==='B'"}],"mark":{"type":"text","align":"left","baseline":"alphabetic","font":"Liberation Sans","fontSize":11.5,"color":"black"},"encoding":{"text":{"field":"txt"}}},
{"data":{"name":"panel"},"transform":[{"filter":"datum.p==='B'"}],"mark":{"type":"text","align":"left","baseline":"alphabetic","font":"Liberation Sans","fontSize":19,"color":"black"},"encoding":{"text":{"field":"txt"}}},
{"data":{"name":"kd"},"transform":[{"filter":"datum.p==='B'"}],"mark":{"type":"text","align":"left","baseline":"alphabetic","font":"Liberation Sans","fontSize":11.5,"color":"black"},"encoding":{"text":{"value":"K"}}},
{"data":{"name":"kd"},"transform":[{"filter":"datum.p==='B'"}],"mark":{"type":"text","align":"left","baseline":"alphabetic","font":"Liberation Sans","fontSize":11.5,"color":"black","dx":7.7,"dy":3.5},"encoding":{"text":{"value":"d"}}},
{"data":{"name":"kd"},"transform":[{"filter":"datum.p==='B'"}],"mark":{"type":"text","align":"left","baseline":"alphabetic","font":"Liberation Sans","fontSize":11.5,"color":"black","dx":14.1},"encoding":{"text":{"field":"pre"}}},
{"data":{"name":"kd"},"transform":[{"filter":"datum.p==='B'"}],"mark":{"type":"text","align":"left","baseline":"alphabetic","font":"Liberation Sans","fontSize":9,"color":"black","dx":66.2,"dy":-5},"encoding":{"text":{"field":"exp"}}},
{"data":{"name":"kd"},"transform":[{"filter":"datum.p==='B' && length(datum.exp) < 3"}],"mark":{"type":"text","align":"left","baseline":"alphabetic","font":"Liberation Sans","fontSize":11.5,"color":"black","dx":74.2},"encoding":{"text":{"value":"M"}}},
{"data":{"name":"kd"},"transform":[{"filter":"datum.p==='B' && length(datum.exp) >= 3"}],"mark":{"type":"text","align":"left","baseline":"alphabetic","font":"Liberation Sans","fontSize":11.5,"color":"black","dx":79.2},"encoding":{"text":{"value":"M"}}}
]
}
]
}
